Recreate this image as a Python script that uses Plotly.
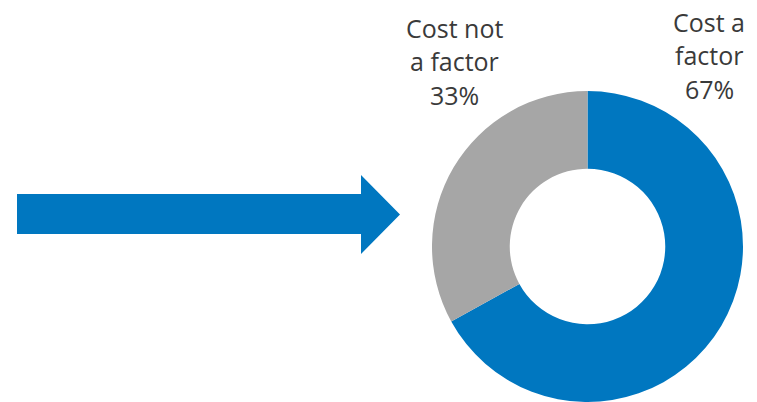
import plotly.graph_objects as go

labels = ["Cost a factor", "Cost not a factor"]
values = [67, 33]
colors = ["#0077C0", "#A6A6A6"]
label_lines = [["Cost a", "factor", "67%"], ["Cost not", "a factor", "33%"]]

W, H = 757, 402
cx, cy, r = 587.5, 246.5, 155.5

fig = go.Figure()
fig.add_trace(go.Pie(
    labels=labels, values=values, hole=0.5, sort=False, direction="clockwise",
    rotation=0, marker=dict(colors=colors, line=dict(width=0)),
    textinfo="none", hoverinfo="label+percent", showlegend=False,
    domain=dict(x=[(cx - r) / W, (cx + r) / W], y=[(H - cy - r) / H, (H - cy + r) / H]),
))

# arrow (decoration)
fig.add_shape(type="path",
              path="M 17 194 L 361 194 L 361 175 L 400 214.5 L 361 254 L 361 234 L 17 234 Z",
              xref="x", yref="y", fillcolor="#0077C0", line=dict(width=0))

font = dict(family="Open Sans, sans-serif", size=25, color="#3a3a3a")
pos = [(709, [21.5, 55, 89]), (454, [27.5, 61, 95])]
for (x, ys), lines in zip(pos, label_lines):
    for y, t in zip(ys, lines):
        fig.add_annotation(x=x, y=y, xref="x", yref="y", text=t, showarrow=False,
                           xanchor="center", yanchor="middle", font=font)

fig.update_xaxes(range=[0, W], visible=False, fixedrange=True)
fig.update_yaxes(range=[H, 0], visible=False, fixedrange=True)
fig.update_layout(width=W, height=H, margin=dict(l=0, r=0, t=0, b=0),
                  paper_bgcolor="white", plot_bgcolor="white")
fig.write_html("out.html", config={"displayModeBar": False},
               post_script="document.body.style.margin='0';document.body.style.overflow='hidden';")
